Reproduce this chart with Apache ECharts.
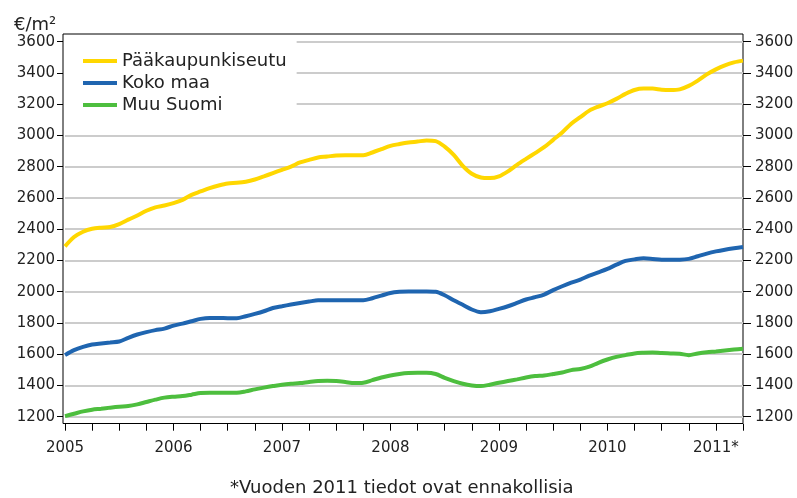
<!DOCTYPE html>
<html>
<head>
<meta charset="utf-8">
<title>Asuntojen hinnat</title>
<script src="https://cdn.jsdelivr.net/npm/echarts@6/dist/echarts.min.js"></script>
<style>
  html, body { margin: 0; padding: 0; background: #fff; }
  #chart { width: 797px; height: 498px; }
</style>
</head>
<body>
<div id="chart"></div>
<script>
// kuukausittain 2005/01 - 2011/04
var years = [2005, 2006, 2007, 2008, 2009, 2010, 2011];
var yearLabels = ["2005", "2006", "2007", "2008", "2009", "2010", "2011*"];
var lastMonth = 4; // 2011 huhtikuu

var pkSeutu = [
  2290, 2350, 2384, 2403, 2410, 2414, 2433, 2461, 2488, 2518, 2540, 2552,
  2567, 2588, 2620, 2642, 2663, 2680, 2693, 2697, 2704, 2718, 2738, 2759,
  2780, 2801, 2827, 2844, 2859, 2865, 2872, 2874, 2874, 2874, 2891, 2912,
  2933, 2945, 2955, 2961, 2968, 2964, 2929, 2876, 2806, 2755, 2731, 2727,
  2738, 2770, 2812, 2850, 2887, 2925, 2972, 3019, 3075, 3117, 3159, 3185,
  3206, 3234, 3266, 3291, 3300, 3300, 3293, 3291, 3295, 3317, 3351, 3391,
  3423, 3449, 3468, 3479
];
var kokoMaa = [
  1594, 1626, 1647, 1662, 1669, 1675, 1681, 1705, 1726, 1741, 1754, 1764,
  1783, 1796, 1811, 1826, 1832, 1832, 1830, 1830, 1843, 1858, 1875, 1896,
  1907, 1918, 1928, 1937, 1945, 1945, 1945, 1945, 1945, 1945, 1958, 1975,
  1992, 1999, 2001, 2001, 2001, 1999, 1977, 1945, 1916, 1886, 1869, 1875,
  1890, 1907, 1928, 1950, 1965, 1982, 2010, 2035, 2058, 2077, 2103, 2124,
  2146, 2173, 2197, 2207, 2214, 2210, 2205, 2205, 2205, 2210, 2227, 2244,
  2258, 2269, 2278, 2286
];
var muuSuomi = [
  1204, 1219, 1234, 1245, 1251, 1258, 1264, 1268, 1279, 1294, 1309, 1322,
  1328, 1332, 1341, 1351, 1353, 1353, 1353, 1353, 1362, 1375, 1386, 1396,
  1405, 1411, 1415, 1422, 1428, 1430, 1428, 1422, 1415, 1417, 1434, 1451,
  1464, 1473, 1479, 1481, 1481, 1473, 1449, 1428, 1411, 1400, 1396, 1405,
  1417, 1428, 1439, 1451, 1460, 1464, 1473, 1483, 1498, 1505, 1520, 1545,
  1566, 1583, 1594, 1605, 1609, 1611, 1607, 1605, 1603, 1594, 1605, 1613,
  1618, 1624, 1630, 1635
];

// kuukausikategoriat
var months = [];
years.forEach(function (y, yi) {
  var n = yi === years.length - 1 ? lastMonth : 12;
  for (var m = 1; m <= n; m++) {
    months.push(yearLabels[yi] + "|" + (m < 10 ? "0" + m : m));
  }
});

var font = "DejaVu Sans";
var chart = echarts.init(document.getElementById("chart"));

function plain(v) {
  return String(v);
}

chart.setOption({
  animation: false,
  backgroundColor: "#fff",
  textStyle: { fontFamily: font },
  title: [
    {
      text: "€/m²",
      left: 9,
      top: 11,
      textStyle: { fontFamily: font, fontSize: 18, fontWeight: "normal", color: "#222" },
    },
    {
      text: "*Vuoden 2011 tiedot ovat ennakollisia",
      left: 230,
      top: 479,
      padding: 0,
      textStyle: { fontFamily: font, fontSize: 18, fontWeight: "normal", color: "#222" },
    },
  ],
  legend: {
    orient: "vertical",
    left: 64,
    top: 35,
    padding: [17, 10, 5, 19],
    backgroundColor: "#fff",
    icon: "rect",
    itemWidth: 34,
    itemHeight: 4,
    itemGap: 4,
    textStyle: { fontFamily: font, fontSize: 18, lineHeight: 17, color: "#222" },
    data: ["Pääkaupunkiseutu", "Koko maa", "Muu Suomi"],
  },
  grid: [
    { left: 65, right: 54, top: 41.7, bottom: 81.3 },
    {
      left: 63, right: 54, top: 34, bottom: 74.5,
      show: true, borderColor: "#000", borderWidth: 1, backgroundColor: "transparent",
    },
  ],
  xAxis: [
    {
      type: "category",
      gridIndex: 0,
      data: months,
      boundaryGap: false,
      offset: 7,
      axisLine: { show: false },
      axisTick: { show: true, interval: 2, length: 7, lineStyle: { color: "#000" } },
      axisLabel: {
        interval: 11,
        margin: 17,
        fontFamily: font,
        fontSize: 15,
        color: "#222",
        formatter: function (v) {
          return v.split("|")[0];
        },
      },
      splitLine: { show: false },
    },
    { type: "value", gridIndex: 1, show: false },
  ],
  yAxis: [
    {
      type: "value",
      gridIndex: 0,
      position: "left",
      min: 1200,
      max: 3600,
      interval: 200,
      offset: 2,
      axisLine: { show: false },
      axisTick: { show: true, length: 6, lineStyle: { color: "#000" } },
      axisLabel: { margin: 8, fontFamily: font, fontSize: 15, color: "#222", formatter: plain },
      splitLine: { show: true, lineStyle: { color: "#cccccc", width: 2 } },
    },
    {
      type: "value",
      gridIndex: 0,
      position: "right",
      min: 1200,
      max: 3600,
      interval: 200,
      axisLine: { show: false },
      axisTick: { show: true, length: 8, lineStyle: { color: "#000" } },
      axisLabel: { margin: 12, fontFamily: font, fontSize: 15, color: "#222", formatter: plain },
      splitLine: { show: false },
    },
    { type: "value", gridIndex: 1, show: false },
  ],
  series: [
    {
      name: "Pääkaupunkiseutu",
      type: "line",
      xAxisIndex: 0,
      yAxisIndex: 0,
      data: pkSeutu,
      showSymbol: false,
      smooth: 0.3,
      color: "#FFD700",
      lineStyle: { width: 4, color: "#FFD700" },
    },
    {
      name: "Koko maa",
      type: "line",
      xAxisIndex: 0,
      yAxisIndex: 0,
      data: kokoMaa,
      showSymbol: false,
      smooth: 0.3,
      color: "#1F65B0",
      lineStyle: { width: 4, color: "#1F65B0" },
    },
    {
      name: "Muu Suomi",
      type: "line",
      xAxisIndex: 0,
      yAxisIndex: 0,
      data: muuSuomi,
      showSymbol: false,
      smooth: 0.3,
      color: "#4DBE3E",
      lineStyle: { width: 4, color: "#4DBE3E" },
    },
  ],
});
</script>
</body>
</html>
